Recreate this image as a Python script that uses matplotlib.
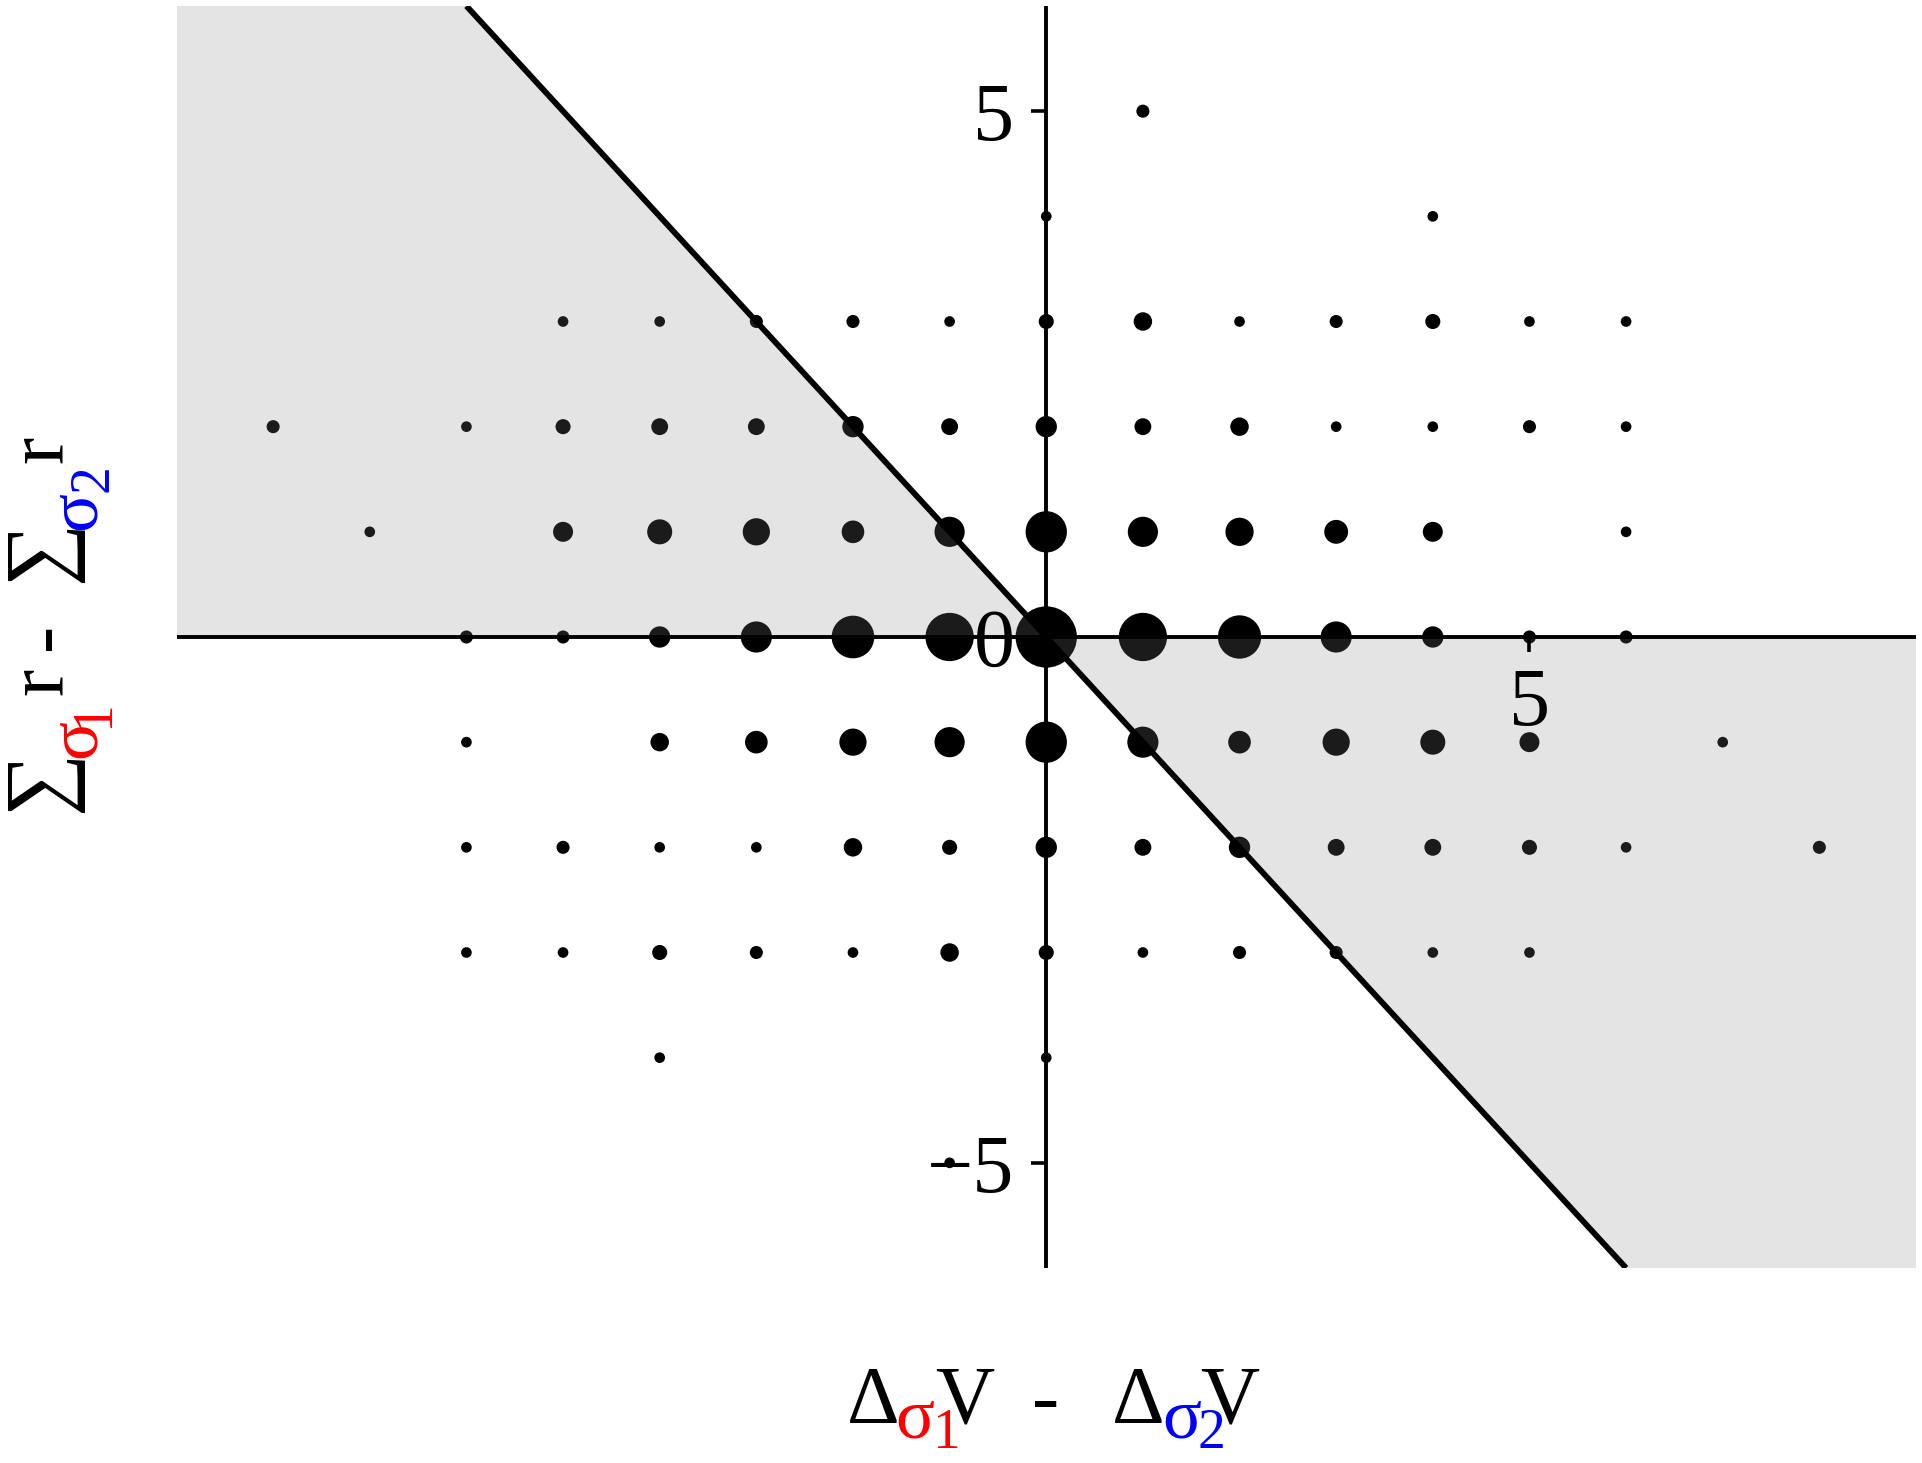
import matplotlib
matplotlib.use("Agg")
import matplotlib.pyplot as plt
from matplotlib.transforms import IdentityTransform

# ---------------- data ----------------
# integer grid points and their frequencies (dot area grows with count)
dot_x = [1,
         0, 4,
         -5, -4, -3, -2, -1, 0, 1, 2, 3, 4, 5, 6,
         -8, -6, -5, -4, -3, -2, -1, 0, 1, 2, 3, 4, 5, 6,
         -7, -5, -4, -3, -2, -1, 0, 1, 2, 3, 4, 6,
         -6, -5, -4, -3, -2, -1, 0, 1, 2, 3, 4, 5, 6,
         -6, -4, -3, -2, -1, 0, 1, 2, 3, 4, 5, 7,
         -6, -5, -4, -3, -2, -1, 0, 1, 2, 3, 4, 5, 6, 8,
         -6, -5, -4, -3, -2, -1, 0, 1, 2, 3, 4, 5,
         -4, 0,
         -1]
dot_y = [5,
         4, 4,
         3, 3, 3, 3, 3, 3, 3, 3, 3, 3, 3, 3,
         2, 2, 2, 2, 2, 2, 2, 2, 2, 2, 2, 2, 2, 2,
         1, 1, 1, 1, 1, 1, 1, 1, 1, 1, 1, 1,
         0, 0, 0, 0, 0, 0, 0, 0, 0, 0, 0, 0, 0,
         -1, -1, -1, -1, -1, -1, -1, -1, -1, -1, -1, -1,
         -2, -2, -2, -2, -2, -2, -2, -2, -2, -2, -2, -2, -2, -2,
         -3, -3, -3, -3, -3, -3, -3, -3, -3, -3, -3, -3,
         -4, -4,
         -5]
dot_n = [2,
         1, 1,
         1, 1, 2, 2, 1, 3, 5, 1, 2, 3, 1, 1,
         2, 1, 3, 4, 4, 7, 4, 7, 4, 5, 1, 1, 2, 1,
         1, 6, 10, 12, 8, 15, 29, 15, 13, 9, 6, 1,
         2, 2, 7, 16, 31, 40, 65, 40, 32, 16, 7, 2, 2,
         1, 5, 8, 12, 15, 29, 16, 8, 12, 10, 6, 1,
         1, 2, 1, 1, 5, 3, 7, 4, 7, 4, 4, 3, 1, 2,
         1, 1, 3, 2, 1, 5, 3, 1, 2, 2, 1, 1,
         1, 1,
         1]

# boundary line and shaded regions
line_x = [-6, 6]
line_y = [6, -6]
shade_ul_x = [-9, 0, -6, -9]
shade_ul_y = [0, 0, 6, 6]
shade_lr_x = [0, 9, 9, 6]
shade_lr_y = [0, 0, -6, -6]

x_limits = (-9, 9)
y_limits = (-6, 6)
x_ticks = [5]
x_ticklabels = ["5"]
y_ticks = [-5, 0, 5]
y_ticklabels = ["\u22125", "0", "5"]

FAM = ["Liberation Serif", "DejaVu Serif"]
W, H = 1922, 1463

fig = plt.figure(figsize=(W / 100, H / 100), dpi=100)
ax = fig.add_axes([176.5 / W, (H - 1268) / H, (1916 - 176.5) / W, (1268 - 6) / H])

sizes = [29.5 * (n + 1) for n in dot_n]
ax.scatter(dot_x, dot_y, s=sizes, c="black", linewidths=0, zorder=2, clip_on=False)

ax.fill(shade_ul_x, shade_ul_y, color="#808080", alpha=0.21, lw=0, zorder=3)
ax.fill(shade_lr_x, shade_lr_y, color="#808080", alpha=0.21, lw=0, zorder=3)
ax.plot(line_x, line_y, color="black", lw=4.2, zorder=5, solid_capstyle="butt")

ax.set_xlim(*x_limits)
ax.set_ylim(*y_limits)
for s in ("top", "right"):
    ax.spines[s].set_visible(False)
for s in ("left", "bottom"):
    ax.spines[s].set_position(("data", 0))
    ax.spines[s].set_linewidth(2.8)
    ax.spines[s].set_zorder(4)
    ax.spines[s].set_capstyle("butt")

ax.set_xticks(x_ticks)
ax.set_xticklabels(x_ticklabels, family=FAM, fontsize=59)
ax.set_yticks(y_ticks)
ax.set_yticklabels(y_ticklabels, family=FAM, fontsize=59)
ax.tick_params(axis="x", direction="out", length=10.8, width=2.6, pad=11)
ax.tick_params(axis="y", direction="out", length=10.8, width=2.6, pad=12)
ax.set_axisbelow(False)
ax.xaxis.set_zorder(6)
ax.yaxis.set_zorder(6)
ax.patch.set_visible(False)


def put(s, x_img, base_img, size, color):
    fig.text(x_img, H - base_img, s, transform=IdentityTransform(),
             fontsize=size, color=color, family=FAM, ha="left", va="baseline")


# x-axis label:  Δσ1V - Δσ2V
put("\u0394", 847, 1423, 59, "black")
put("\u03c3", 895, 1437, 52, "red")
put("1", 932, 1448, 40, "red")
put("V", 935, 1423, 59, "black")
put("-", 1032, 1423, 59, "black")
put("\u0394", 1112, 1423, 59, "black")
put("\u03c3", 1162, 1437, 52, "blue")
put("2", 1198, 1448, 40, "blue")
put("V", 1200, 1423, 59, "black")


# y-axis label (rotated): first coordinate = baseline x in image, second = start y in image
def put_r(s, base_x, start_y, size, color):
    fig.text(base_x, H - start_y, s, transform=IdentityTransform(),
             fontsize=size, color=color, family=FAM, ha="left", va="baseline",
             rotation=90, rotation_mode="anchor")


put_r("\u2211", 63, 812, 64, "black")
put_r("\u03c3", 95, 758, 52, "red")
put_r("1", 108, 728, 40, "red")
put_r("r", 62, 695, 59, "black")
put_r("-", 66, 650, 59, "black")
put_r("\u2211", 63, 582, 64, "black")
put_r("\u03c3", 95, 530, 52, "blue")
put_r("2", 108, 492, 40, "blue")
put_r("r", 62, 463, 59, "black")

fig.savefig("out.png", dpi=100)
